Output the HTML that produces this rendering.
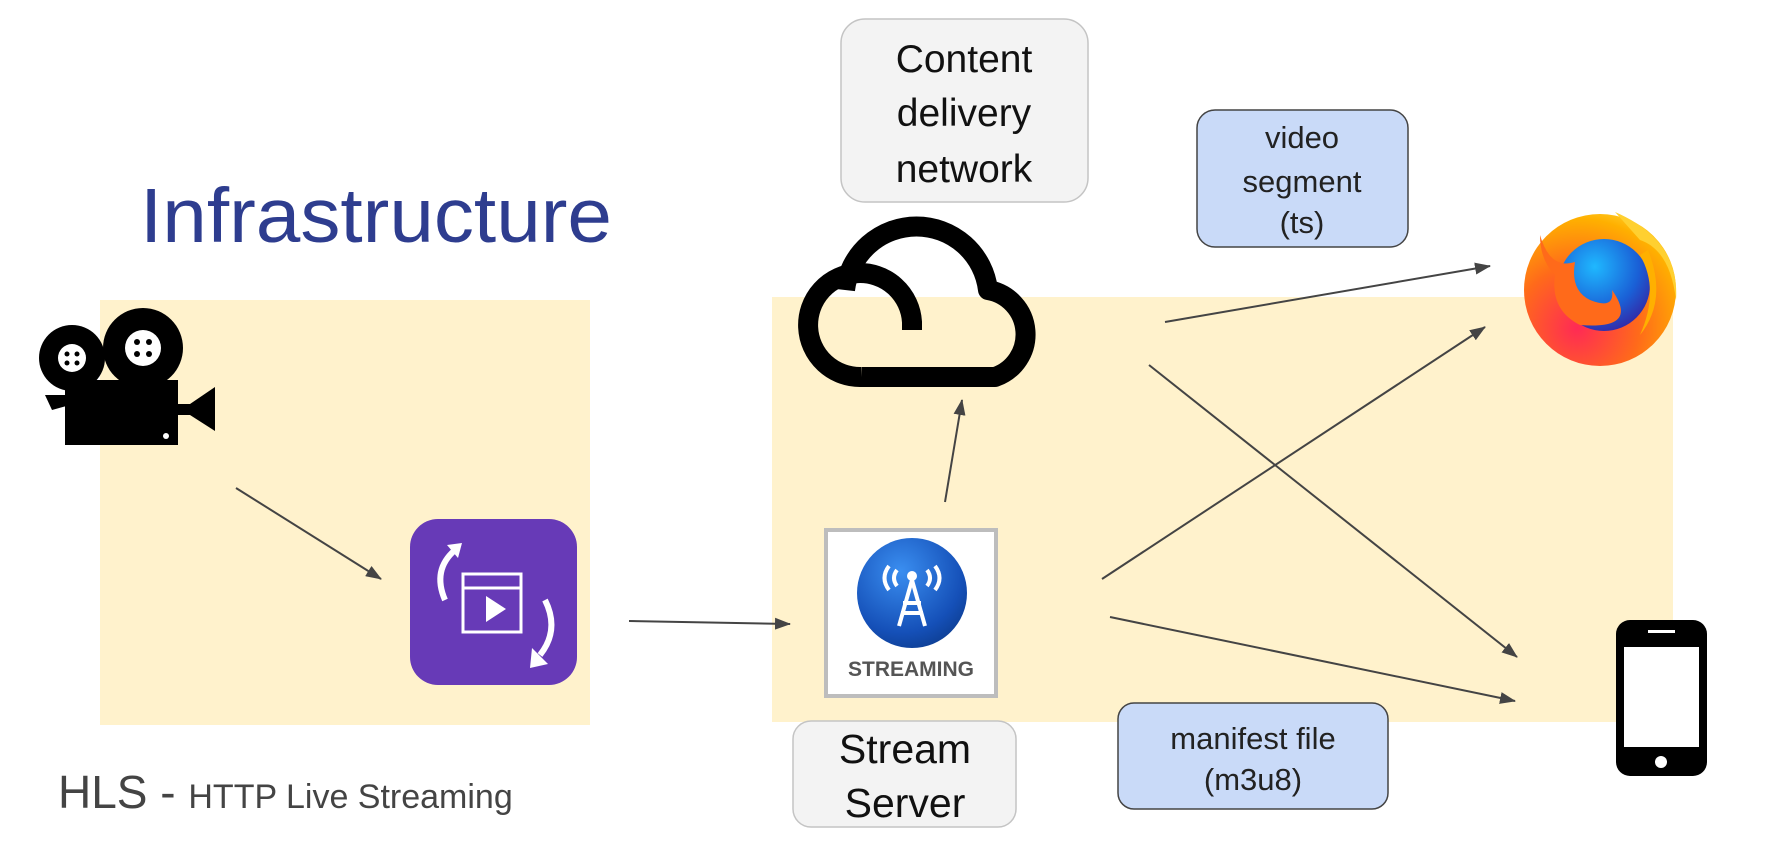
<!DOCTYPE html>
<html><head><meta charset="utf-8"><style>
html,body{margin:0;padding:0;background:#fff;}
svg{display:block;}
text{font-family:"Liberation Sans",sans-serif;}
</style></head><body>
<svg width="1780" height="860" viewBox="0 0 1780 860" xmlns="http://www.w3.org/2000/svg">
<defs>
<marker id="ah" markerWidth="16" markerHeight="12" refX="15" refY="6" orient="auto" markerUnits="userSpaceOnUse">
<path d="M0,0 L16,6 L0,12 z" fill="#444"/></marker>
<radialGradient id="ff" cx="0.35" cy="0.75" r="0.9">
<stop offset="0" stop-color="#ff2a55"/><stop offset="0.45" stop-color="#ff6a1a"/><stop offset="0.8" stop-color="#ffb000"/><stop offset="1" stop-color="#ffe040"/></radialGradient>
<radialGradient id="fb" cx="0.4" cy="0.3" r="0.8">
<stop offset="0" stop-color="#1fb8ff"/><stop offset="0.6" stop-color="#1a5fd6"/><stop offset="1" stop-color="#3a1c9a"/></radialGradient>
<radialGradient id="sb" cx="0.4" cy="0.3" r="0.8">
<stop offset="0" stop-color="#3a8ef0"/><stop offset="0.7" stop-color="#1550b8"/><stop offset="1" stop-color="#0c3a8a"/></radialGradient>
</defs>

<rect x="100" y="300" width="490" height="425" fill="#fff2cc"/>
<rect x="772" y="297" width="901" height="425" fill="#fff2cc"/>

<text x="140" y="242" font-size="77" fill="#2e3d8f" textLength="472" lengthAdjust="spacingAndGlyphs">Infrastructure</text>

<text x="58" y="808" fill="#444"><tspan font-size="46">HLS - </tspan><tspan font-size="34">HTTP Live Streaming</tspan></text>

<g fill="#000">
<circle cx="72" cy="358" r="33"/>
<circle cx="143" cy="348" r="40"/>
<rect x="65" y="380" width="113" height="65"/>
<polygon points="178,404 190,404 215,387 215,431 190,415 178,415"/>
<polygon points="45,395 70,395 70,405 52,410"/>
</g>
<g fill="#fff">
<circle cx="72" cy="358" r="14"/><circle cx="143" cy="348" r="18"/>
<circle cx="166" cy="436" r="3"/>
</g>
<g fill="#000">
<circle cx="67" cy="354" r="2.5"/><circle cx="77" cy="354" r="2.5"/><circle cx="67" cy="363" r="2.5"/><circle cx="77" cy="363" r="2.5"/>
<circle cx="137" cy="342" r="3"/><circle cx="149" cy="342" r="3"/><circle cx="137" cy="354" r="3"/><circle cx="149" cy="354" r="3"/>
</g>

<rect x="410" y="519" width="167" height="166" rx="28" fill="#673ab7"/>
<rect x="463" y="574" width="58" height="58" fill="none" stroke="#fff" stroke-width="3"/>
<line x1="463" y1="588" x2="521" y2="588" stroke="#fff" stroke-width="3"/>
<polygon points="486,596 486,622 506,609" fill="#fff"/>
<path d="M445,600 Q432,570 455,550" fill="none" stroke="#fff" stroke-width="6"/>
<polygon points="447,545 462,543 458,558" fill="#fff"/>
<path d="M545,600 Q560,630 540,655" fill="none" stroke="#fff" stroke-width="6"/>
<polygon points="532,648 548,664 530,668" fill="#fff"/>

<rect x="826" y="530" width="170" height="166" fill="#fff" stroke="#bdbdbd" stroke-width="4"/>
<circle cx="912" cy="593" r="55" fill="url(#sb)"/>
<g stroke="#fff" stroke-width="4" fill="none">
<line x1="912" y1="580" x2="899" y2="626"/><line x1="912" y1="580" x2="925" y2="626"/>
<line x1="903" y1="603" x2="921" y2="603"/><line x1="901" y1="613" x2="923" y2="613"/>
<path d="M897,570 Q891,578 897,586"/><path d="M927,570 Q933,578 927,586"/>
<path d="M889,566 Q880,578 889,590"/><path d="M935,566 Q944,578 935,590"/>
</g>
<circle cx="912" cy="576" r="5" fill="#fff"/>
<text x="911" y="676" font-size="21" font-weight="bold" fill="#555" text-anchor="middle">STREAMING</text>

<path d="M862,377 A52,52 0 1 1 912,322 L912,330" fill="none" stroke="#000" stroke-width="20"/>
<path d="M845,290 A72,72 0 0 1 988,290 A45,45 0 0 1 995,377 L862,377" fill="none" stroke="#000" stroke-width="20" stroke-linejoin="round"/>

<rect x="841" y="19" width="247" height="183" rx="24" fill="#f3f3f3" stroke="#c4c4c4" stroke-width="1.5"/>
<g font-size="39" fill="#111" text-anchor="middle">
<text x="964" y="72">Content</text><text x="964" y="126">delivery</text><text x="964" y="182">network</text>
</g>

<rect x="793" y="721" width="223" height="106" rx="18" fill="#f3f3f3" stroke="#c4c4c4" stroke-width="1.5"/>
<g font-size="41" fill="#111" text-anchor="middle">
<text x="905" y="763">Stream</text><text x="905" y="817">Server</text>
</g>

<rect x="1197" y="110" width="211" height="137" rx="18" fill="#c9daf8" stroke="#444" stroke-width="1.5"/>
<g font-size="31" fill="#222" text-anchor="middle">
<text x="1302" y="148">video</text><text x="1302" y="192">segment</text><text x="1302" y="233">(ts)</text>
</g>

<rect x="1118" y="703" width="270" height="106" rx="16" fill="#c9daf8" stroke="#444" stroke-width="1.5"/>
<g font-size="31" fill="#222" text-anchor="middle">
<text x="1253" y="749">manifest file</text><text x="1253" y="790">(m3u8)</text>
</g>

<circle cx="1600" cy="290" r="76" fill="url(#ff)"/>
<path d="M1615,212 Q1680,240 1676,300 Q1670,250 1640,240 z" fill="#ffd030"/>
<circle cx="1604" cy="285" r="46" fill="url(#fb)"/>
<path d="M1540,235 Q1550,270 1575,262 Q1570,290 1590,300 Q1615,310 1612,290 Q1640,330 1580,325 Q1550,310 1555,275 Q1540,260 1540,235z" fill="#ff6a1a"/>
<path d="M1648,250 Q1668,300 1640,335 Q1660,290 1640,255z" fill="#ffb000"/>

<rect x="1616" y="620" width="91" height="156" rx="14" fill="#000"/>
<rect x="1624" y="647" width="75" height="100" fill="#fff"/>
<rect x="1648" y="630" width="27" height="3" fill="#fff"/>
<circle cx="1661" cy="762" r="6" fill="#fff"/>

<g stroke="#444" stroke-width="2" fill="none" marker-end="url(#ah)">
<line x1="236" y1="488" x2="381" y2="579"/>
<line x1="629" y1="621" x2="790" y2="624"/>
<line x1="945" y1="502" x2="962" y2="400"/>
<line x1="1165" y1="322" x2="1490" y2="266"/>
<line x1="1102" y1="579" x2="1485" y2="327"/>
<line x1="1149" y1="365" x2="1517" y2="657"/>
<line x1="1110" y1="617" x2="1515" y2="701"/>
</g>
</svg>
</body></html>
